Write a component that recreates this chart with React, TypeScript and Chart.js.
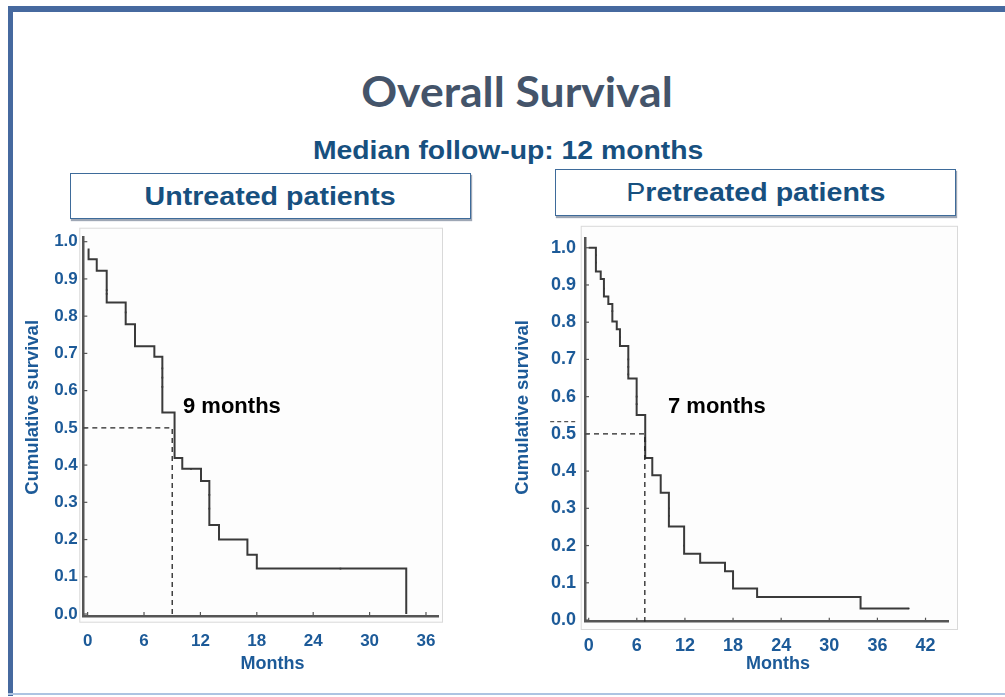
import React, { useEffect, useRef } from "react";
import { Chart, registerables } from "chart.js";

Chart.register(...registerables);

// ---------- Untreated patients (Kaplan–Meier estimate) ----------
// month of each drop and the cumulative survival right after it
const untreatedMonths = [0, 0.1, 0.97, 2.03, 4.05, 5.04, 7.1, 7.95, 9.25, 10.07, 12.06, 12.95, 13.98, 17.0, 18.0, 33.9];
const untreatedSurvival = [0.979, 0.953, 0.922, 0.837, 0.778, 0.719, 0.691, 0.541, 0.419, 0.39, 0.357, 0.239, 0.2, 0.159, 0.122, 0.0];
// censored observations
const untreatedCensorMonths = [2.03, 2.03, 4.05, 5.04, 7.95, 7.95, 7.95, 11.0, 12.95, 12.95, 26.9];
const untreatedCensorSurvival = [0.87, 0.86, 0.81, 0.75, 0.66, 0.635, 0.61, 0.39, 0.32, 0.283, 0.122];
const untreatedMedianMonths = 9;
const untreatedMonthTicks = [0, 6, 12, 18, 24, 30, 36];

// ---------- Pretreated patients (Kaplan–Meier estimate) ----------
const pretreatedMonths = [0, 0.9, 1.5, 1.9, 2.45, 2.95, 3.5, 3.9, 4.94, 5.98, 7.05, 7.93, 8.98, 10.0, 11.9, 13.9, 17.0, 18.0, 21.0, 33.9, 39.9];
const pretreatedSurvival = [1.0, 0.936, 0.916, 0.869, 0.849, 0.802, 0.781, 0.736, 0.649, 0.551, 0.435, 0.389, 0.342, 0.251, 0.178, 0.154, 0.131, 0.085, 0.062, 0.031, 0.031];
const pretreatedCensorMonths = [0.9, 0.9, 1.9, 2.95, 3.9, 4.94, 4.94, 4.94, 5.98, 5.98, 7.05, 10.0, 10.0, 11.9, 17.0, 18.0, 32.9, 39.9];
const pretreatedCensorSurvival = [0.98, 0.96, 0.89, 0.83, 0.76, 0.7, 0.68, 0.66, 0.6, 0.58, 0.48, 0.3, 0.28, 0.2, 0.14, 0.11, 0.062, 0.031];
const pretreatedMedianMonths = 7;
const pretreatedMonthTicks = [0, 6, 12, 18, 24, 30, 36, 42];

const survivalTicks = [0, 0.1, 0.2, 0.3, 0.4, 0.5, 0.6, 0.7, 0.8, 0.9, 1.0];

const AXIS_BLUE = "#1c5a98";
const NAVY = "#17507f";
const AXIS_FONT = "Liberation Sans";

// Draws the plot frame, inner tick marks, axis captions and the median annotation.
const kmDecor = {
  id: "kmDecor",
  beforeDraw(chart: any, _args: any, o: any) {
    const { ctx, chartArea: a } = chart;
    const [l, t, r, b] = o.frame;
    ctx.save();
    ctx.fillStyle = "#fdfdfd";
    ctx.fillRect(a.left - l, a.top - t, a.right - a.left + l + r, a.bottom - a.top + t + b);
    ctx.strokeStyle = "#d9d9d9";
    ctx.lineWidth = 1;
    ctx.strokeRect(a.left - l + 0.5, a.top - t + 0.5, a.right - a.left + l + r - 1, a.bottom - a.top + t + b - 1);
    ctx.restore();
  },
  afterDatasetsDraw(chart: any, _args: any, o: any) {
    const { ctx, chartArea: a } = chart;
    const xs = chart.scales.x;
    const ys = chart.scales.y;
    ctx.save();
    ctx.strokeStyle = "#555";
    ctx.lineWidth = 1.2;
    ys.ticks.forEach((t: any) => {
      const py = ys.getPixelForValue(t.value);
      ctx.beginPath();
      ctx.moveTo(a.left, py);
      ctx.lineTo(a.left + 4, py);
      ctx.stroke();
    });
    xs.ticks.forEach((t: any) => {
      const px = xs.getPixelForValue(t.value);
      ctx.beginPath();
      ctx.moveTo(px, a.bottom);
      ctx.lineTo(px, a.bottom - 4);
      ctx.stroke();
    });

    if (o.stub) {
      ctx.strokeStyle = "#555";
      ctx.lineWidth = 1.2;
      ctx.setLineDash([4, 3]);
      const py = ys.getPixelForValue(o.stub.survival);
      ctx.beginPath();
      ctx.moveTo(xs.getPixelForValue(o.stub.from), py);
      ctx.lineTo(xs.getPixelForValue(o.stub.to), py);
      ctx.stroke();
      ctx.setLineDash([]);
    }

    // median annotation
    ctx.fillStyle = "#000";
    ctx.font = 'bold 22px "Liberation Sans", Arial, sans-serif';
    ctx.textAlign = "left";
    ctx.textBaseline = "middle";
    ctx.fillText(o.label.text, xs.getPixelForValue(o.label.month), ys.getPixelForValue(o.label.survival));

    // axis captions
    ctx.fillStyle = AXIS_BLUE;
    ctx.textAlign = "center";
    ctx.font = `bold ${o.xTitle.size}px "${AXIS_FONT}"`;
    ctx.fillText(o.xTitle.text, (a.left + a.right) / 2 + o.xTitle.dx, a.bottom + o.xTitle.dy);
    ctx.font = `bold ${o.yTitle.size}px "${AXIS_FONT}"`;
    ctx.translate(a.left + o.yTitle.dx, (a.top + a.bottom) / 2 + o.yTitle.dy);
    ctx.rotate(-Math.PI / 2);
    ctx.fillText(o.yTitle.text, 0, 0);
    ctx.restore();
  },
};

type PanelSpec = {
  months: number[];
  survival: number[];
  censorMonths: number[];
  censorSurvival: number[];
  median: number;
  monthTicks: number[];
  xMin: number;
  xMax: number;
  yMin: number;
  yMax: number;
  box: { left: number; top: number; width: number; height: number };
  yAxisWidth: number;
  xAxisHeight: number;
  padTop: number;
  padRight: number;
  tickSize: number;
  yTickPad: number;
  xTickPad: number;
  frame: number[];
  label: { text: string; month: number; survival: number };
  xTitle: { text: string; dx: number; dy: number; size: number };
  yTitle: { text: string; dx: number; dy: number; size: number };
  stub?: { from: number; to: number; survival: number };
};

function buildConfig(p: PanelSpec): any {
  const curve = p.months.map((m, i) => ({ x: m, y: p.survival[i] }));
  const censored = p.censorMonths.map((m, i) => ({ x: m, y: p.censorSurvival[i] }));
  const medianGuide = [
    { x: p.xMin, y: 0.5 },
    { x: p.median, y: 0.5 },
    { x: p.median, y: p.yMin },
  ];
  const tickFont = { family: AXIS_FONT, size: p.tickSize, weight: "bold" as const };
  return {
    type: "line",
    data: {
      datasets: [
        {
          data: medianGuide,
          borderColor: "#222",
          borderWidth: 1.3,
          borderDash: [5, 4],
          pointRadius: 0,
          fill: false,
        },
        {
          data: curve,
          stepped: true,
          borderColor: "#3a3a3a",
          borderWidth: 2,
          pointRadius: 0,
          fill: false,
        },
        {
          data: censored,
          showLine: false,
          pointStyle: "rect",
          pointRadius: 1.2,
          pointBorderWidth: 0,
          pointBackgroundColor: "#222",
        },
      ],
    },
    options: {
      animation: false,
      responsive: false,
      events: [],
      layout: { padding: { top: p.padTop, right: p.padRight, left: 0, bottom: 0 } },
      plugins: {
        legend: { display: false },
        tooltip: { enabled: false },
        kmDecor: {
          frame: p.frame,
          label: p.label,
          xTitle: p.xTitle,
          yTitle: p.yTitle,
          stub: p.stub,
        },
      },
      scales: {
        x: {
          type: "linear",
          min: p.xMin,
          max: p.xMax,
          afterBuildTicks: (s: any) => {
            s.ticks = p.monthTicks.map((v) => ({ value: v }));
          },
          afterFit: (s: any) => {
            s.height = p.xAxisHeight;
          },
          grid: { display: false, drawTicks: false, tickLength: 0 },
          border: { display: true, color: "#555", width: 2.5 },
          ticks: {
            autoSkip: false,
            maxRotation: 0,
            padding: p.xTickPad,
            color: AXIS_BLUE,
            font: tickFont,
            callback: (v: any) => String(v),
          },
        },
        y: {
          type: "linear",
          min: p.yMin,
          max: p.yMax,
          afterBuildTicks: (s: any) => {
            s.ticks = survivalTicks.map((v) => ({ value: v }));
          },
          afterFit: (s: any) => {
            s.width = p.yAxisWidth;
          },
          grid: { display: false, drawTicks: false, tickLength: 0 },
          border: { display: true, color: "#555", width: 2.5 },
          ticks: {
            autoSkip: false,
            padding: p.yTickPad,
            color: AXIS_BLUE,
            font: tickFont,
            callback: (v: any) => Number(v).toFixed(1),
          },
        },
      },
    },
    plugins: [kmDecor],
  };
}

function KaplanMeierPanel({ spec }: { spec: PanelSpec }) {
  const ref = useRef<HTMLCanvasElement | null>(null);
  useEffect(() => {
    if (!ref.current) return;
    const chart = new Chart(ref.current, buildConfig(spec));
    return () => chart.destroy();
  }, [spec]);
  const { left, top, width, height } = spec.box;
  return (
    <canvas
      ref={ref}
      width={width}
      height={height}
      style={{ position: "absolute", left, top, width, height, display: "block" }}
    />
  );
}

const untreatedSpec: PanelSpec = {
  months: untreatedMonths,
  survival: untreatedSurvival,
  censorMonths: untreatedCensorMonths,
  censorSurvival: untreatedCensorSurvival,
  median: untreatedMedianMonths,
  monthTicks: untreatedMonthTicks,
  xMin: -0.46,
  xMax: 37.31,
  yMin: -0.0053,
  yMax: 1.0107,
  box: { left: 15, top: 222, width: 440, height: 460 },
  yAxisWidth: 68.3,
  xAxisHeight: 66,
  padTop: 13,
  padRight: 16.7,
  tickSize: 17,
  yTickPad: 5.5,
  xTickPad: 15,
  frame: [4, 10, 4.7, 6.7],
  label: { text: `${untreatedMedianMonths} months`, month: 10.15, survival: 0.557 },
  xTitle: { text: "Months", dx: 11.7, dy: 48, size: 18 },
  yTitle: { text: "Cumulative survival", dx: -50.3, dy: -19.5, size: 18.5 },
};

const pretreatedSpec: PanelSpec = {
  months: pretreatedMonths,
  survival: pretreatedSurvival,
  censorMonths: pretreatedCensorMonths,
  censorSurvival: pretreatedCensorSurvival,
  median: pretreatedMedianMonths,
  monthTicks: pretreatedMonthTicks,
  xMin: -0.46,
  xMax: 44.84,
  yMin: -0.0045,
  yMax: 1.0267,
  box: { left: 510, top: 218, width: 470, height: 464 },
  yAxisWidth: 75,
  xAxisHeight: 60.3,
  padTop: 17,
  padRight: 31.7,
  tickSize: 18,
  yTickPad: 9,
  xTickPad: 14,
  frame: [4.3, 12, 9.7, 8.3],
  label: { text: `${pretreatedMedianMonths} months`, month: 9.89, survival: 0.573 },
  xTitle: { text: "Months", dx: 11.3, dy: 42, size: 18 },
  yTitle: { text: "Cumulative survival", dx: -62, dy: -22.35, size: 18.5 },
  stub: { from: -4.8, to: -1.6, survival: 0.533 },
};

const boxStyle = (left: number, top: number, height: number): React.CSSProperties => ({
  position: "absolute",
  left,
  top,
  width: 401,
  height,
  boxSizing: "border-box",
  border: "1px solid #3e6b9a",
  boxShadow: "1px 2px 1px rgba(40,60,90,0.45)",
  background: "#fff",
  display: "flex",
  alignItems: "center",
  justifyContent: "center",
  fontFamily: '"Liberation Sans", Arial, sans-serif',
  fontWeight: 700,
  fontSize: 26,
  color: NAVY,
  whiteSpace: "nowrap",
});

export default function App() {
  return (
    <div
      style={{
        position: "absolute",
        left: 0,
        top: 0,
        width: 1005,
        height: 697,
        background: "#fff",
        overflow: "hidden",
      }}
    >
      {/* slide frame */}
      <div style={{ position: "absolute", left: 8, top: 6, width: 997, height: 6, background: "#46699f" }} />
      <div style={{ position: "absolute", left: 8, top: 6, width: 5, height: 690, background: "#46699f" }} />
      <div style={{ position: "absolute", left: 8, top: 693, width: 997, height: 2, background: "#adc4e2" }} />

      <div
        style={{
          position: "absolute",
          left: 217,
          top: 70,
          width: 600,
          textAlign: "center",
          fontFamily: "Lato, sans-serif",
          fontWeight: 700,
          fontSize: 42,
          lineHeight: 1,
          color: "#44546a",
        }}
      >
        <span style={{ display: "inline-block", transform: "scaleX(1.06)" }}>Overall Survival</span>
      </div>
      <div
        style={{
          position: "absolute",
          left: 208,
          top: 137,
          width: 600,
          textAlign: "center",
          fontFamily: '"Liberation Sans", Arial, sans-serif',
          fontWeight: 700,
          fontSize: 26,
          lineHeight: 1,
          color: NAVY,
        }}
      >
        <span style={{ display: "inline-block", transform: "scaleX(1.09)" }}>Median follow-up: 12 months</span>
      </div>

      <div style={boxStyle(70, 173, 46)}>
        <span style={{ display: "inline-block", transform: "scaleX(1.1)" }}>Untreated patients</span>
      </div>
      <div style={boxStyle(555, 169, 47)}>
        <span style={{ display: "inline-block", transform: "scaleX(1.1)" }}>
          <span style={{ fontWeight: 400 }}>P</span>retreated patients
        </span>
      </div>

      <KaplanMeierPanel spec={untreatedSpec} />
      <KaplanMeierPanel spec={pretreatedSpec} />
    </div>
  );
}
